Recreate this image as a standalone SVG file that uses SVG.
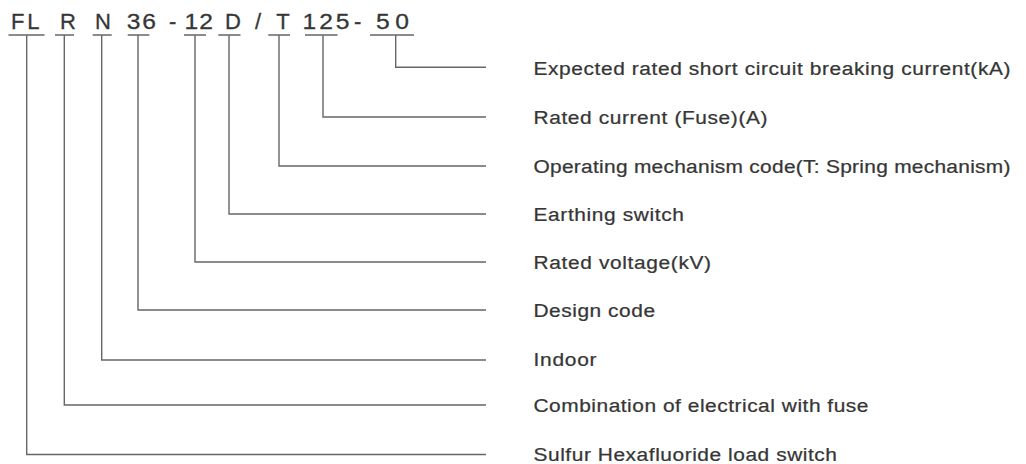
<svg xmlns="http://www.w3.org/2000/svg" width="1026" height="464" viewBox="0 0 1026 464">
<style>
.code{font-family:"Liberation Sans",Arial,sans-serif;font-size:22px;fill:#363636;stroke:#363636;stroke-width:0.3}
.lbl{font-family:"Liberation Sans",Arial,sans-serif;font-size:19px;fill:#363636;stroke:#363636;stroke-width:0.25}
.ln{fill:none;stroke:#666;stroke-width:1.4}
</style>
<rect width="1026" height="464" fill="#fff"/>
<g id="code">
<text class="code" x="11" y="28.5" textLength="28.5" lengthAdjust="spacing">FL</text>
<text class="code" x="60" y="28.5">R</text>
<text class="code" x="95" y="28.5">N</text>
<text class="code" transform="translate(126.7 28.5) scale(1.12 1)" textLength="26.2" lengthAdjust="spacing">36</text>
<text class="code" x="169" y="28.5">-</text>
<text class="code" transform="translate(184.5 28.5) scale(1.12 1)" textLength="25.4" lengthAdjust="spacing">12</text>
<text class="code" x="225" y="28.5">D</text>
<text class="code" x="255" y="28.5">/</text>
<text class="code" x="276.2" y="28.5">T</text>
<text class="code" transform="translate(302.5 28.5) scale(1.12 1)" textLength="42" lengthAdjust="spacing">125</text>
<text class="code" x="354" y="28.5">-</text>
<text class="code" transform="translate(376 28.5) scale(1.12 1)" textLength="29.5" lengthAdjust="spacing">50</text>
</g>
<g id="connectors">
<path class="ln" d="M8.5 35H44.5M55 35H74M92.7 35H111.7M127.7 35H149.3M184 35H206M218.3 35H240.5M268.3 35H290M305 35H337.5M370 35H414"/>
<path class="ln" d="M395.7 35V67.3H486"/>
<path class="ln" d="M323 35V117H486"/>
<path class="ln" d="M279 35V166H486"/>
<path class="ln" d="M229 35V214H486"/>
<path class="ln" d="M195 35V262H486"/>
<path class="ln" d="M138 35V310H486"/>
<path class="ln" d="M101.7 35V360H486"/>
<path class="ln" d="M64.3 35V405H486"/>
<path class="ln" d="M26.7 35V454.5H486"/>
</g>
<g id="label-50"><text class="lbl" transform="translate(533.5 75) scale(1.1 1)" textLength="433.6" lengthAdjust="spacing">Expected rated short circuit breaking current(kA)</text></g>
<g id="label-125"><text class="lbl" transform="translate(533.5 124) scale(1.1 1)" textLength="212.7" lengthAdjust="spacing">Rated current (Fuse)(A)</text></g>
<g id="label-T"><text class="lbl" transform="translate(533.5 173) scale(1.1 1)" textLength="433.6" lengthAdjust="spacing">Operating mechanism code(T: Spring mechanism)</text></g>
<g id="label-D"><text class="lbl" transform="translate(533.5 221) scale(1.1 1)" textLength="136.8" lengthAdjust="spacing">Earthing switch</text></g>
<g id="label-12"><text class="lbl" transform="translate(533.5 269) scale(1.1 1)" textLength="161.4" lengthAdjust="spacing">Rated voltage(kV)</text></g>
<g id="label-36"><text class="lbl" transform="translate(533.5 317) scale(1.1 1)" textLength="110.5" lengthAdjust="spacing">Design code</text></g>
<g id="label-N"><text class="lbl" transform="translate(533.5 366) scale(1.1 1)" textLength="57.3" lengthAdjust="spacing">Indoor</text></g>
<g id="label-R"><text class="lbl" transform="translate(533.5 412) scale(1.1 1)" textLength="304.5" lengthAdjust="spacing">Combination of electrical with fuse</text></g>
<g id="label-FL"><text class="lbl" transform="translate(533.5 460.5) scale(1.1 1)" textLength="275.9" lengthAdjust="spacing">Sulfur Hexafluoride load switch</text></g>
</svg>
